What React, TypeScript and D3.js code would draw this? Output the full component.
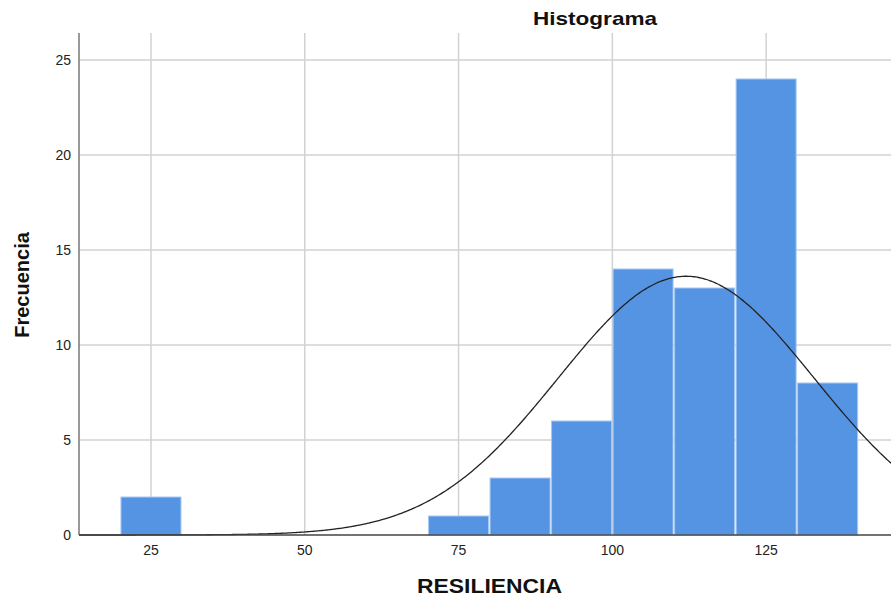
import React from "react";
import * as d3 from "d3";

const binStarts = [20, 70, 80, 90, 100, 110, 120, 130];
const binCounts = [2, 1, 3, 6, 14, 13, 24, 8];
const binWidth = 10;
const xTicks = [25, 50, 75, 100, 125];
const yTicks = [0, 5, 10, 15, 20, 25];
const fitMean = 112;
const fitStd = 20.8;

const W = 891;
const H = 599;
const M = { left: 79, right: 891, top: 33, bottom: 535 };

export default function App() {
  const x = d3.scaleLinear().domain([13.3, 145.3]).range([M.left, M.right]);
  const y = d3.scaleLinear().domain([0, 26.42]).range([M.bottom, M.top]);
  const n = d3.sum(binCounts);
  const curvePts = d3.range(13.3, 145.31, 0.25).map((v) => {
    const z = (v - fitMean) / fitStd;
    return [v, (n * binWidth) / (fitStd * Math.sqrt(2 * Math.PI)) * Math.exp(-0.5 * z * z)];
  });
  const line = d3
    .line<number[]>()
    .x((d) => x(d[0]))
    .y((d) => y(d[1]))
    .curve(d3.curveBasis);
  const font = "'Liberation Sans', Arial, sans-serif";
  return (
    <svg
      width={W}
      height={H}
      style={{ position: "absolute", left: 0, top: 0, background: "#fff" }}
      fontFamily={font}
    >
      <rect x={0} y={0} width={W} height={H} fill="#fff" />
      {xTicks.map((t) => (
        <line key={"gx" + t} x1={x(t)} x2={x(t)} y1={M.top} y2={M.bottom} stroke="#d2d2d2" strokeWidth={1.5} />
      ))}
      {yTicks.filter((t) => t > 0).map((t) => (
        <line key={"gy" + t} x1={M.left} x2={M.right} y1={y(t)} y2={y(t)} stroke="#d2d2d2" strokeWidth={1.5} />
      ))}
      {binStarts.map((s, i) => (
        <rect
          key={"b" + s}
          x={x(s) + 0.75}
          y={y(binCounts[i])}
          width={x(s + binWidth) - x(s) - 1.5}
          height={y(0) - y(binCounts[i])}
          fill="#5594e3"
          stroke="#a8c8f2"
          strokeWidth={1}
        />
      ))}
      <path d={line(curvePts) || ""} fill="none" stroke="#222" strokeWidth={1.3} />
      <line x1={M.left} x2={M.left} y1={M.top} y2={M.bottom} stroke="#777" strokeWidth={1.5} />
      <line x1={M.left} x2={M.right} y1={M.bottom} y2={M.bottom} stroke="#444" strokeWidth={1.5} />
      {yTicks.map((t) => (
        <text key={"ty" + t} x={71} y={y(t)} dy="0.35em" textAnchor="end" fontSize={14} fill="#222">
          {t}
        </text>
      ))}
      {xTicks.map((t) => (
        <text key={"tx" + t} x={x(t)} y={555} textAnchor="middle" fontSize={14} fill="#222">
          {t}
        </text>
      ))}
      <text x={533} y={25} fontSize={19} fontWeight="bold" fill="#111" textLength={124} lengthAdjust="spacingAndGlyphs">
        Histograma
      </text>
      <text x={417} y={593} fontSize={20} fontWeight="bold" fill="#111" textLength={145} lengthAdjust="spacingAndGlyphs">
        RESILIENCIA
      </text>
      <text
        transform={`translate(29,285) rotate(-90)`}
        textAnchor="middle"
        fontSize={20}
        fontWeight="bold"
        fill="#111"
      >
        Frecuencia
      </text>
    </svg>
  );
}
